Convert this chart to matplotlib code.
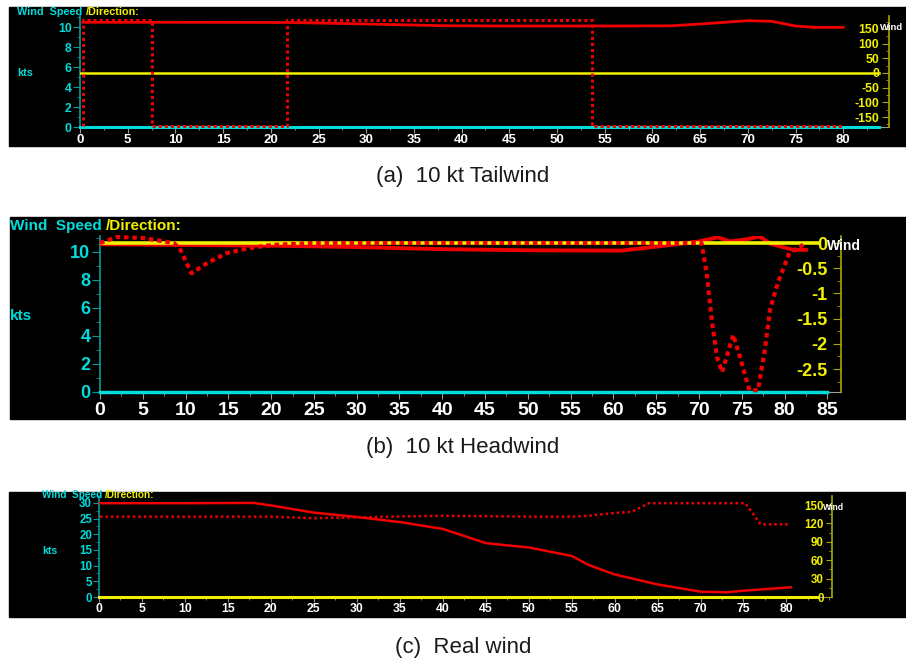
"""Wind speed / direction screenshots: tailwind, headwind, real wind."""

import matplotlib

matplotlib.use("Agg")
import matplotlib.pyplot as plt
import numpy as np
from matplotlib.patches import Rectangle
from matplotlib.ticker import MultipleLocator, FixedLocator, FormatStrFormatter

W, H = 906, 661

# (a) 10 kt tailwind
a_speed_t = [0.3, 10, 22, 30, 38, 45, 55, 62, 65, 70, 72.5, 75, 77, 80]
a_speed = [10.47, 10.47, 10.45, 10.3, 10.13, 10.1, 10.1, 10.12, 10.3, 10.63, 10.57, 10.1, 9.97, 9.97]
a_dir_t = [0.3, 0.3, 7.5, 7.5, 21.7, 21.7, 53.7, 53.7, 80]
a_dir = [-180, 180, 180, -180, -180, 180, 180, -180, -180]
a_ref_t = [0, 83.7]

# (b) 10 kt headwind
b_speed_t = [0, 10, 20, 30, 40, 50, 61, 66, 70, 72.2, 73.6, 75.5, 77.1, 78.3, 79.8, 81, 82.5]
b_speed = [10.55, 10.5, 10.45, 10.35, 10.2, 10.12, 10.1, 10.45, 10.75, 11.05, 10.75, 10.9,
           11.1, 10.6, 10.35, 10.15, 10.15]
b_dir_t = [0, 2, 5, 8.6, 9.3, 10.7, 12.5, 14.8, 17.5, 20, 25, 70.3, 70.9, 71.5, 72.1, 72.7,
           74, 74.8, 75.9, 76.9, 77.7, 78.3, 79.2, 80.6, 81.8, 82.4]
b_dir = [0, 0.12, 0.1, 0.0, -0.1, -0.6, -0.4, -0.2, -0.1, -0.04, 0, 0, -0.6, -1.53, -2.26,
         -2.56, -1.82, -2.27, -2.92, -2.92, -2.12, -1.33, -0.8, -0.18, -0.08, 0]
b_ref_t = [0, 85]

# (c) real wind
c_speed_t = [0, 10, 18, 20, 25, 30, 35, 40, 45, 47, 50, 55, 57, 60, 65, 70, 73, 75, 78, 80.5]
c_speed = [29.9, 29.9, 30, 29.2, 26.9, 25.5, 23.9, 21.7, 17.2, 16.6, 15.8, 13.1, 10.2, 7.2,
           4.0, 1.7, 1.5, 2.0, 2.6, 3.1]
c_dir_t = [0.1, 20, 25, 30, 40, 50, 55, 57, 60, 62, 64, 75.2, 77, 80.5]
c_dir = [131, 131, 128.5, 130, 132.5, 131, 131, 132.5, 137, 139, 153, 153, 118.5, 118.5]
c_ref_t = [0, 83.7]

CYAN = "#00dcdc"
TEAL = "#0a9a9a"
YELLOW = "#f0f000"
OLIVE = "#a8a800"
RED = "#f00000"
GREY = "#9a9a9a"

plt.rcParams["font.family"] = ["Liberation Sans", "DejaVu Sans"]
plt.rcParams["font.weight"] = "bold"


def fx(x):
    return x / W


def fy(y):
    return 1 - y / H


def make_panel(fig, black, box, xlim, xmax_tick, slim, smaj, smin, dlim, dmaj, dmin,
               xfs, yfs, tick, rpad):
    l, t, r, b = black
    fig.add_artist(Rectangle((fx(l), fy(b)), fx(r - l), (b - t) / H,
                             transform=fig.transFigure, color="black", zorder=0))
    l, t, r, b = box
    ax = fig.add_axes([fx(l), fy(b), fx(r - l), (b - t) / H])
    ax.set_facecolor("black")
    ax.set_xlim(*xlim)
    ax.set_ylim(*slim)
    for s in ("top", "right"):
        ax.spines[s].set_visible(False)
    ax.spines["left"].set_color(TEAL)
    ax.spines["left"].set_linewidth(1.2)
    ax.spines["bottom"].set_color(GREY)
    ax.xaxis.set_major_locator(FixedLocator(np.arange(0, xmax_tick + 1, 5)))
    ax.xaxis.set_minor_locator(MultipleLocator(2.5))
    ax.yaxis.set_major_locator(MultipleLocator(smaj))
    ax.yaxis.set_minor_locator(MultipleLocator(smin))
    ax.tick_params(axis="x", which="major", colors=GREY, labelcolor="white",
                   labelsize=xfs, length=tick[2], pad=tick[4])
    ax.tick_params(axis="x", which="minor", colors=GREY, length=tick[3])
    ax.tick_params(axis="y", which="major", colors=TEAL, labelcolor=CYAN,
                   labelsize=yfs, length=tick[0], pad=1)
    ax.tick_params(axis="y", which="minor", colors=TEAL, length=tick[1])

    ax2 = ax.twinx()
    ax2.set_ylim(*dlim)
    for s in ("top", "left", "bottom"):
        ax2.spines[s].set_visible(False)
    ax2.spines["right"].set_color(OLIVE)
    ax2.spines["right"].set_linewidth(1.2)
    ax2.yaxis.set_major_locator(MultipleLocator(dmaj))
    ax2.yaxis.set_minor_locator(MultipleLocator(dmin))
    ax2.yaxis.set_major_formatter(FormatStrFormatter("%g"))
    ax2.tick_params(axis="y", which="major", direction="in", colors=OLIVE,
                    labelcolor=YELLOW, labelsize=yfs, length=tick[0], pad=-rpad)
    ax2.tick_params(axis="y", which="minor", direction="in", colors=OLIVE,
                    length=tick[1])
    plt.setp(ax2.get_yticklabels(), ha="right")
    return ax, ax2


fig = plt.figure(figsize=(W / 100, H / 100), dpi=100)
fig.patch.set_facecolor("white")

# ---- (a)
ax, ax2 = make_panel(fig, (9, 7, 906, 146), (80, 16, 889, 127), (0, 84.8), 80,
                     (0, 11.1), 2, 1, (-184, 194), 50, 25, 9.5, 8.8,
                     (5, 2.5, 4, 2, 1), 7)
ax.plot(a_ref_t, [0, 0], color=CYAN, lw=2.2, clip_on=False, zorder=3)
ax.plot(a_speed_t, a_speed, color=RED, lw=2, zorder=4)
ax2.plot(a_ref_t, [0, 0], color=YELLOW, lw=1.8, zorder=2)
ax2.plot(a_dir_t, a_dir, color=RED, lw=2.2, ls=(0, (1, 1)), clip_on=False, zorder=3)

# ---- (b)
bx, bx2 = make_panel(fig, (10, 217, 906, 419), (100, 236, 841, 392), (0, 86.6), 85,
                     (0, 11.14), 2, 1, (-2.955, 0.139), 0.5, 0.25, 14, 13,
                     (6, 3, 5, 3, 2), 9.5)
bx.plot(b_ref_t, [0, 0], color=CYAN, lw=2.5, clip_on=False, zorder=3)
bx.plot(b_speed_t, b_speed, color=RED, lw=2.8, zorder=4)
bx2.plot([0, 84], [0, 0], color=YELLOW, lw=2.6, zorder=2)
bx2.plot(b_dir_t, b_dir, color=RED, lw=3, ls=(0, (1.1, 0.9)), clip_on=False, zorder=3)

# ---- (c)
cx, cx2 = make_panel(fig, (9, 492, 906, 617), (99, 496, 832, 597), (0, 85.3), 80,
                     (0, 32.2), 5, 2.5, (0, 164.7), 30, 15, 8.8, 8.3,
                     (4, 2, 3.5, 2, 1), 6)
cx.plot(c_speed_t, c_speed, color=RED, lw=1.8, zorder=4)
cx2.plot(c_ref_t, [0, 0], color=YELLOW, lw=2.2, clip_on=False, zorder=2)
cx2.plot(c_dir_t, c_dir, color=RED, lw=1.8, ls=(0, (1, 1.2)), zorder=3)

# headers, axis names, captions
for (x, y, fs) in [(17, 12, 7.8), (10, 226, 11), (42, 495, 7.2)]:
    t1 = fig.text(fx(x), fy(y), "Wind  Speed", color=CYAN, fontsize=fs, va="center")
    fig.add_artist(plt.Annotation("/Direction:", xy=(1, 0.5), xycoords=t1,
                                  xytext=(fs * 0.3, 0), textcoords="offset points",
                                  va="center", ha="left", color=YELLOW, fontsize=fs))

for (x, y, fs) in [(17, 73, 7.8), (10, 316, 11), (42, 551, 7.6)]:
    fig.text(fx(x), fy(y), "kts", color=CYAN, fontsize=fs, va="center")

for (x, y, fs) in [(880, 27, 6.8), (827, 246, 10), (823, 508, 6.2)]:
    fig.text(fx(x), fy(y), "Wind", color="white", fontsize=fs, va="center")

for (y, s) in [(177, "(a)  10 kt Tailwind"), (448, "(b)  10 kt Headwind"),
               (647, "(c)  Real wind")]:
    fig.text(fx(463), fy(y), s, ha="center", va="center", fontsize=16,
             fontweight="normal", color="#1a1a1a")

fig.savefig("out.png", dpi=100, facecolor="white")
plt.close(fig)
